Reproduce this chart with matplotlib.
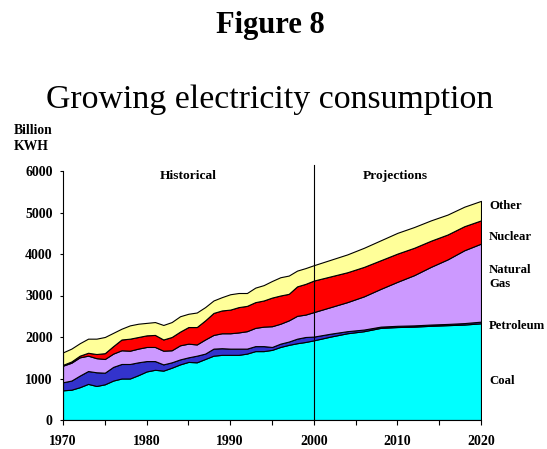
import matplotlib
matplotlib.use("Agg")
import matplotlib.pyplot as plt
import numpy as np

years = list(range(1970, 2001)) + list(range(2002, 2021, 2))

coal = [715, 730, 790, 870, 820, 860, 950, 1000, 1000, 1080, 1170, 1210, 1190, 1260, 1340,
        1400, 1390, 1470, 1550, 1570, 1570, 1570, 1600, 1660, 1660, 1690, 1760, 1810, 1850,
        1880, 1920,
        2010, 2090, 2140, 2220, 2240, 2250, 2270, 2285, 2300, 2330]
petroleum = [195, 220, 280, 310, 330, 280, 330, 350, 350, 310, 250, 210, 150, 130, 120,
             110, 160, 130, 170, 160, 150, 150, 120, 120, 120, 70, 80, 80, 110, 120, 90,
             70, 50, 40, 30, 30, 30, 30, 30, 35, 40]
natural_gas = [400, 430, 440, 370, 340, 330, 320, 330, 320, 330, 340, 340, 330, 290, 340,
               330, 270, 340, 330, 360, 370, 390, 420, 440, 470, 500, 480, 510, 550, 540, 590,
               640, 700, 800, 910, 1060, 1210, 1390, 1555, 1755, 1880]
nuclear = [20, 30, 40, 70, 100, 140, 180, 260, 290, 280, 280, 290, 270, 320, 330,
           400, 420, 460, 530, 550, 570, 610, 610, 620, 630, 690, 680, 640, 710, 740, 760,
           740, 720, 710, 690, 680, 660, 630, 600, 580, 560]
other = [300, 310, 300, 340, 370, 390, 320, 260, 320, 320, 300, 310, 350, 360, 370,
         320, 350, 320, 300, 320, 370, 340, 310, 350, 370, 400, 440, 440, 380, 380, 370,
         400, 430, 460, 480, 500, 500, 490, 480, 470, 470]

series_labels = ["Coal", "Petroleum", "Natural\nGas", "Nuclear", "Other"]
label_y = [930, 2270, 3450, 4420, 5160]
colors = ["#00FFFF", "#3333CC", "#CC99FF", "#FF0000", "#FFFF99"]
x_ticks = [1970, 1980, 1990, 2000, 2010, 2020]
y_ticks = [0, 1000, 2000, 3000, 4000, 5000, 6000]

plt.rcParams['font.family'] = ['Liberation Serif', 'DejaVu Serif']

fig = plt.figure(figsize=(5.47, 4.49), dpi=100)
ax = fig.add_axes([63/547, 29/449, 418/547, 249/449])

ax.stackplot(years, coal, petroleum, natural_gas, nuclear, other,
             colors=colors, edgecolor="black", linewidth=0.8)

ax.set_xlim(1970, 2020)
ax.set_ylim(0, 6000)
ax.set_xticks(x_ticks)
ax.set_xticks(list(range(1975, 2020, 10)), minor=True)
ax.set_yticks(y_ticks)
ax.set_xticklabels([str(t) for t in x_ticks], fontweight="bold", fontsize=10)
ax.set_yticklabels([str(t) for t in y_ticks], fontweight="bold", fontsize=10)
ax.tick_params(axis="x", which="both", direction="out", length=3.6, width=0.8, pad=7)
ax.tick_params(axis="y", which="both", direction="out", length=2.5, width=0.8, pad=5)
for s in ["top", "right"]:
    ax.spines[s].set_visible(False)
ax.spines["left"].set_linewidth(0.8)
ax.spines["bottom"].set_linewidth(0.8)

ax.plot([2000, 2000], [0, 6150], color="black", linewidth=0.8, clip_on=False, zorder=5)

ax.text(1985, 5890, "Historical", ha="center", va="center", fontweight="bold", fontsize=9.7)
ax.text(2009.7, 5890, "Projections", ha="center", va="center", fontweight="bold", fontsize=9.7)

for lab, yv in zip(series_labels, label_y):
    ax.text(2020.95, yv, lab, ha="left", va="center", fontweight="bold", fontsize=9.2,
            clip_on=False, linespacing=1.25)

fig.text(270/547, 1 - 25/449, "Figure 8", ha="center", va="center",
         fontweight="bold", fontsize=22)
fig.text(270/547, 1 - 100/449, "Growing electricity consumption", ha="center", va="center",
         fontsize=24.4)
fig.text(14/547, 1 - 139/449, "Billion\nKWH", ha="left", va="center",
         fontweight="bold", fontsize=9.8, linespacing=1.3)

fig.savefig("out.png", dpi=100)
